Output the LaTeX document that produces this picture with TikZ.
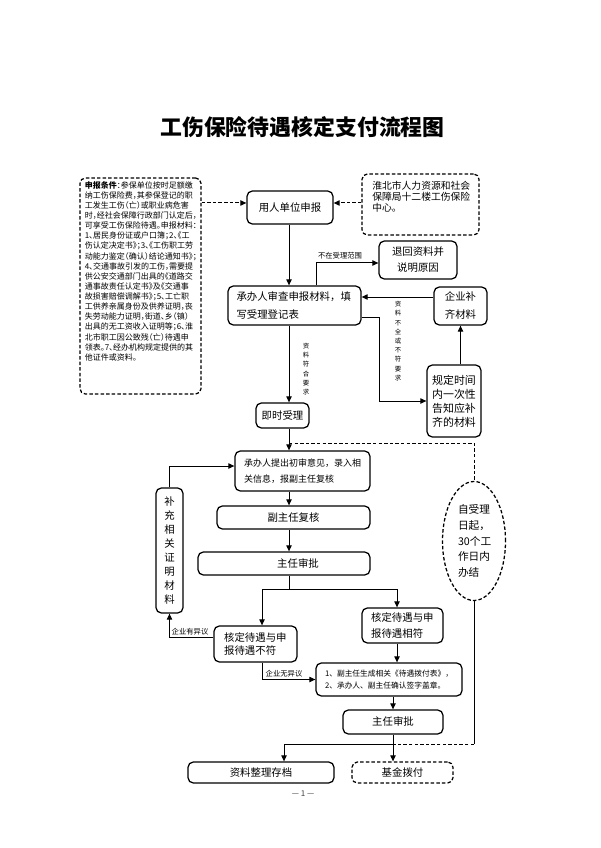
\documentclass[tikz,border=0pt]{standalone}
\usepackage{fontspec}
\setmainfont{Noto Sans CJK SC}
\newfontfamily\haltcjk[RawFeature=+halt]{Noto Sans CJK SC}
\usetikzlibrary{arrows.meta,shapes.geometric}
\begin{document}
\begin{tikzpicture}[x=0.75pt,y=-0.75pt]
\tikzset{
  bx/.style={draw, rounded corners=4pt, line width=0.95pt, inner sep=0pt, align=center},
  dpat/.style={dash pattern=on 2.6pt off 1.6pt},
  dbx/.style={bx, dpat},
  ln/.style={line width=0.75pt},
  arr/.style={ln, -{Triangle[length=4.5pt,width=4pt]}},
  darr/.style={arr, dpat},
  dln/.style={ln, dpat},
  lab/.style={inner sep=0pt, font=\fontsize{5.5}{6}\selectfont},
  vlab/.style={inner sep=0pt, align=center, font=\fontsize{4.8}{6.9}\selectfont},
  mid/.style={font=\fontsize{7.8}{9}\selectfont}
}
\fill[white] (0,0) rectangle (600,848);
\useasboundingbox (0,0) rectangle (600,848);

% title
\node[inner sep=0pt, font=\bfseries\fontsize{16.4}{18}\selectfont] (title) at (302.5,127) {工伤保险待遇核定支付流程图};

% helper coordinates
\coordinate (cA) at (289,0);
\coordinate (cB) at (316,0);
\coordinate (cC) at (379,0);
\coordinate (cD) at (262,0);
\coordinate (cE) at (397,0);
\coordinate (cF) at (284,0);
\coordinate (r203) at (0,203);
\coordinate (r263) at (0,263);
\coordinate (r297) at (0,297);
\coordinate (r317) at (0,317);
\coordinate (r466) at (0,466);
\coordinate (r637) at (0,637);
\coordinate (dj) at (289,443);
\coordinate (br) at (289,589);
\coordinate (jn) at (394,744);

% nodes
\node[dbx, minimum width=90.75pt, minimum height=162pt] (cond) at (140.5,286) {};
\node[anchor=north west, inner sep=0pt, align=left, font=\haltcjk\fontsize{6}{7.6}\selectfont] (condt) at (84.5,181) {%
{\bfseries 申报条件}：参保单位按时足额缴\\
纳工伤保险费，其参保登记的职\\
工发生工伤（亡）或职业病危害\\
时，经社会保障行政部门认定后，\\
可享受工伤保险待遇。申报材料：\\
1、居民身份证或户口簿；2、《工\\
伤认定决定书》；3、《工伤职工劳\\
动能力鉴定（确认）结论通知书》；\\
4、交通事故引发的工伤，需要提\\
供公安交通部门出具的《道路交\\
通事故责任认定书》及《交通事\\
故损害赔偿调解书》；5、工亡职\\
工供养亲属身份及供养证明，丧\\
失劳动能力证明，街道、乡（镇）\\
出具的无工资收入证明等；6、淮\\
北市职工因公致残（亡）待遇申\\
领表。7、经办机构规定提供的其\\
他证件或资料。};

\node[bx, mid, minimum width=64.5pt, minimum height=24.75pt] (yr) at (290,207.5) {用人单位申报};
\node[dbx, minimum width=87.75pt, minimum height=45.75pt] (org) at (420.5,204.5) {};
\node[anchor=north west, inner sep=0pt, align=left, font=\fontsize{7.35}{8.3}\selectfont] (orgt) at (372,181) {淮北市人力资源和社会\\保障局十二楼工伤保险\\中心。};

\node[bx, minimum width=99.75pt, minimum height=29.25pt, text width=87pt, align=left, font=\fontsize{7.8}{13.5}\selectfont] (rev) at (294.5,305.5) {承办人审查申报材料，填\\写受理登记表};
\node[bx, minimum width=58.5pt, minimum height=28.5pt, font=\fontsize{7.8}{12}\selectfont] (ret) at (418,260) {退回资料并\\说明原因};
\node[bx, minimum width=39.75pt, minimum height=28.5pt, font=\fontsize{7.8}{13.5}\selectfont] (sup) at (460.5,306) {企业补\\齐材料};
\node[bx, minimum width=40.5pt, minimum height=54pt, font=\fontsize{8.2}{10.5}\selectfont] (notify) at (454,401) {规定时间\\内一次性\\告知应补\\齐的材料};
\node[bx, mid, minimum width=39.75pt, minimum height=18.75pt] (acc) at (282.5,415.5) {即时受理};
\node[bx, minimum width=101.25pt, minimum height=30pt, text width=87.75pt, align=left, font=\fontsize{6.75}{12}\selectfont] (init) at (302.5,471) {承办人提出初审意见，录入相\\关信息，报副主任复核};
\node[bx, mid, minimum width=114.75pt, minimum height=17.25pt] (vice) at (293.5,517.5) {副主任复核};
\node[bx, mid, minimum width=129pt, minimum height=17.25pt] (dir1) at (284,563.5) {\hspace*{21pt}主任审批};
\node[ellipse, draw, dpat, line width=0.95pt, minimum width=47.25pt, minimum height=89.25pt, inner sep=0pt, text width=24pt, align=left, font=\fontsize{8}{11.8}\selectfont] (ell) at (474,541) {自受理\\日起，\\30个工\\作日内\\办结};
\node[bx, minimum width=20.25pt, minimum height=93.75pt, font=\fontsize{7.8}{10.5}\selectfont] (addl) at (169.5,550.5) {补\\充\\相\\关\\证\\明\\材\\料};
\node[bx, minimum width=62.25pt, minimum height=27pt, text width=47pt, align=left, font=\fontsize{7.8}{9.6}\selectfont] (nm) at (255.5,644) {核定待遇与申\\报待遇不符};
\node[bx, minimum width=60.75pt, minimum height=26.25pt, text width=47pt, align=left, font=\fontsize{7.8}{12.4}\selectfont] (mt) at (402.5,625.5) {核定待遇与申\\报待遇相符};
\node[bx, minimum width=109.5pt, minimum height=24.75pt, text width=96pt, align=left, font=\fontsize{5.8}{9}\selectfont] (gen) at (389,679.5) {1、副主任生成相关《待遇拨付表》，\\2、承办人、副主任确认签字盖章。};
\node[bx, mid, minimum width=75pt, minimum height=18pt] (dir2) at (393,722) {主任审批};
\node[bx, mid, minimum width=109.5pt, minimum height=15.75pt] (arch) at (261,772.5) {资料整理存档};
\node[dbx, mid, minimum width=75.75pt, minimum height=15.75pt] (fund) at (402.5,772.5) {基金拨付};

% labels
\node[lab] (l1) at (340,256) {不在受理范围};
\node[vlab] (l2) at (306,369) {资\\料\\符\\合\\要\\求};
\node[vlab] (l3) at (398,341) {资\\料\\不\\全\\或\\不\\符\\要\\求};
\node[lab] (l4) at (190,632) {企业有异议};
\node[lab] (l5) at (284,674) {企业无异议};
\node[inner sep=0pt, text=black!75, font=\fontsize{6}{7}\selectfont] (pg) at (303,794) {— 1 —};

% connectors
\draw[darr] (cond.east |- r203) -- (yr.west |- r203);
\draw[darr] (org.west |- r203) -- (yr.east |- r203);
\draw[arr] (yr.south -| cA) -- (rev.north -| cA);
\draw[arr] (rev.north -| cB) |- (ret.west |- r263);
\draw[arr] (sup.west |- r297) -- (rev.east |- r297);
\draw[arr] (rev.east |- r317) -| (cC |- notify.west) -- (notify.west);
\draw[arr] (notify.north -| sup.south) -- (sup.south);
\draw[arr] (rev.south -| cA) -- (acc.north -| cA);
\draw[arr] (acc.south -| cA) -- (init.north -| cA);
\draw[dln] (dj) -| (ell.north);
\draw[ln] (ell.south) -- (ell.south |- jn);
\draw[dln] (ell.south |- jn) -- (jn);
\draw[arr] (init.south -| cA) -- (vice.north -| cA);
\draw[arr] (vice.south -| cA) -- (dir1.north -| cA);
\draw[ln] (dir1.south -| cA) -- (br);
\draw[arr] (br) -| (nm.north -| cD);
\draw[arr] (br) -| (mt.north -| cE);
\draw[arr] (nm.west |- r637) -| (addl.south);
\draw[arr] (addl.north) |- (init.west |- r466);
\draw[arr] (nm.south -| cD) |- (gen.west);
\draw[arr] (mt.south -| cE) -- (gen.north -| cE);
\draw[arr] (gen.south -| dir2.north) -- (dir2.north);
\draw[arr] (dir2.south) -- (dir2.south |- fund.north);
\draw[arr] (jn) -| (cF |- arch.north);
\end{tikzpicture}
\end{document}
